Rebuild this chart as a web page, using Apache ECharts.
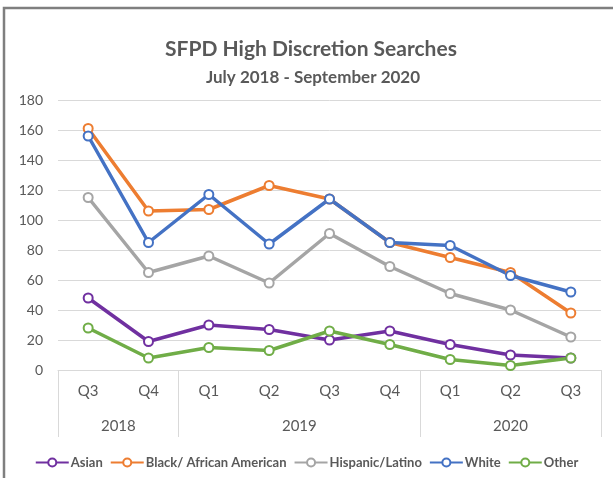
<!DOCTYPE html>
<html>
<head>
<meta charset="utf-8">
<script src="https://cdn.jsdelivr.net/npm/echarts@6/dist/echarts.min.js"></script>
<style>
html,body{margin:0;padding:0;background:#fff;}
#main{width:613px;height:478px;}
</style>
</head>
<body>
<div id="main"></div>
<script>
// 数据
var quarters = ['Q3','Q4','Q1','Q2','Q3','Q4','Q1','Q2','Q3'];
var years = ['2018','2019','2020'];
var yearMid = [1, 4, 7.5];      // 年份标签在类目轴上的中心位置
var yearEdges = [0, 2, 6, 9];   // 年份分隔线位置
var yTicks = [0,20,40,60,80,100,120,140,160,180];

var asian    = [48, 19, 30, 27, 20, 26, 17, 10, 8];
var black    = [161, 106, 107, 123, 114, 85, 75, 65, 38];
var hispanic = [115, 65, 76, 58, 91, 69, 51, 40, 22];
var white    = [156, 85, 117, 84, 114, 85, 83, 63, 52];
var other    = [28, 8, 15, 13, 26, 17, 7, 3, 8];

var seriesNames = ['Asian','Black/ African American','Hispanic/Latino','White','Other'];
var seriesColors = ['#7030a0','#ed7d31','#a5a5a5','#4472c4','#70ad47'];
var seriesData = [asian, black, hispanic, white, other];

var myChart = echarts.init(document.getElementById('main'));
var txt = '#595959';
var fam = 'Lato';

function makeSeries(i){
	return {
		name: seriesNames[i],
		type: 'line',
		data: seriesData[i],
		symbol: 'emptyCircle',
		symbolSize: 9,
		showAllSymbol: true,
		color: seriesColors[i],
		lineStyle: {width: 3.5, color: seriesColors[i]},
		itemStyle: {color: seriesColors[i], borderWidth: 1.8},
		emphasis: {disabled: true},
		animation: false
	};
}

var option = {
	backgroundColor: '#fff',
	animation: false,
	title: [{
		text: 'SFPD High Discretion Searches',
		left: 306, top: 34, textAlign: 'center',
		textStyle: {fontFamily: fam, fontWeight: 'bold', fontSize: 21, color: txt}
	},{
		text: 'July 2018 - September 2020',
		left: 308, top: 64, textAlign: 'center',
		textStyle: {fontFamily: fam, fontWeight: 'bold', fontSize: 17, color: txt}
	}],
	graphic: [{
		type: 'rect',
		shape: {x: 4, y: 8, width: 640, height: 520},
		style: {fill: null, stroke: '#7f7f7f', lineWidth: 2.5},
		silent: true
	}],
	legend: {
		left: 'center', top: 451,
		itemWidth: 33, itemHeight: 10, itemGap: 7,
		textStyle: {fontFamily: fam, fontWeight: 'bold', fontSize: 13, color: txt, padding: [0,0,0,-3]},
		data: seriesNames
	},
	grid: {left: 58, right: 12, top: 100, height: 270, containLabel: false},
	xAxis: [{
		type: 'category',
		data: quarters,
		boundaryGap: true,
		axisLine: {lineStyle: {color: '#d9d9d9', width: 1}},
		axisTick: {show: false},
		axisLabel: {fontFamily: fam, fontSize: 15, color: txt, margin: 14}
	},{
		type: 'value',
		position: 'bottom',
		min: 0, max: 9,
		axisLine: {show: false},
		splitLine: {show: false},
		axisTick: {show: true, customValues: yearEdges, length: 67, lineStyle: {color: '#d9d9d9', width: 1}},
		axisLabel: {
			customValues: yearMid,
			fontFamily: fam, fontSize: 15, color: txt, margin: 49,
			formatter: function (v) { return years[yearMid.indexOf(v)]; }
		}
	}],
	yAxis: {
		type: 'value',
		min: 0, max: 180, interval: 20,
		axisLine: {show: false},
		axisTick: {show: false},
		splitLine: {lineStyle: {color: '#d9d9d9', width: 1}},
		axisLabel: {fontFamily: fam, fontSize: 14, color: txt, margin: 15,
			formatter: function (v) { return yTicks.indexOf(v) >= 0 ? String(v) : ''; }}
	},
	series: [0,1,2,3,4].map(makeSeries)
};
myChart.setOption(option);
</script>
</body>
</html>
